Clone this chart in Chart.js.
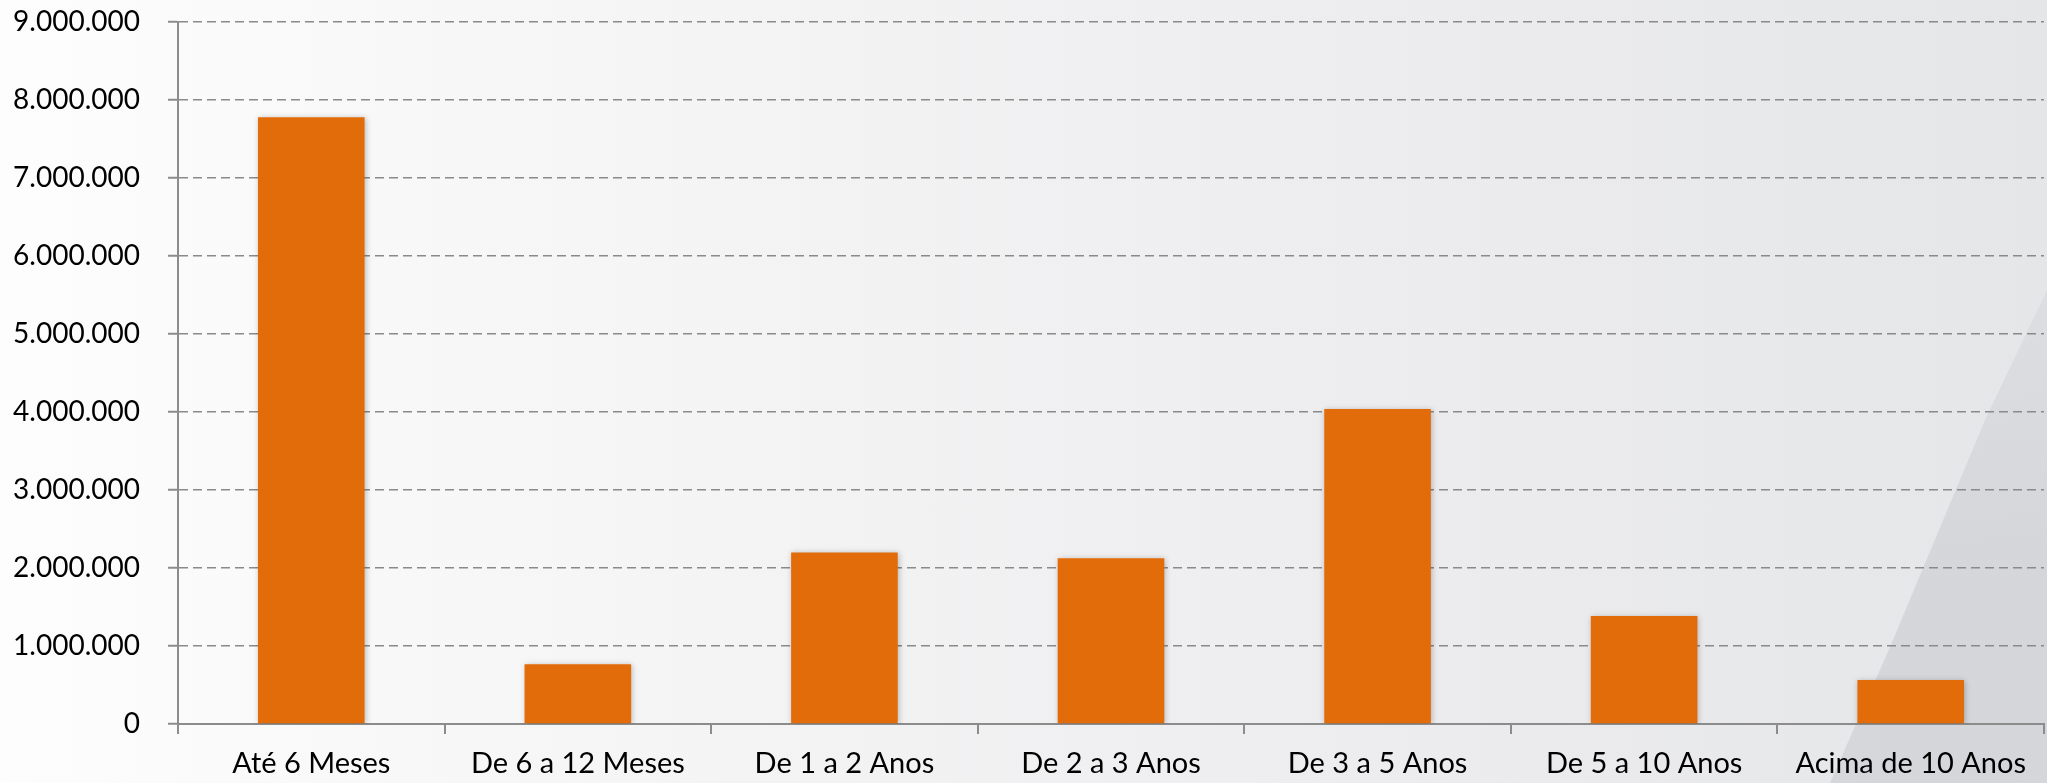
<!DOCTYPE html>
<html>
<head>
<meta charset="utf-8">
<script src="https://cdn.jsdelivr.net/npm/chart.js@4.4.1/dist/chart.umd.min.js"></script>
<style>
  html, body { margin: 0; padding: 0; }
  body {
    width: 2047px; height: 783px; overflow: hidden; position: relative;
    background: linear-gradient(90deg, #fdfdfd 0%, #f4f4f5 35%, #ececee 70%, #e5e6e8 100%);
  }
  #deco {
    position: absolute; left: 0; top: 0; width: 2047px; height: 783px;
    background: linear-gradient(180deg, rgba(200,201,206,0.25) 35%, rgba(200,201,206,0.55) 70%, rgba(200,201,206,0.55) 100%);
    clip-path: polygon(2047px 290px, 2047px 783px, 1830px 783px, 1890px 647px, 1985px 420px);
  }
  #wrap { position: absolute; left: 0; top: 0; width: 2047px; height: 783px; }
</style>
</head>
<body>
<div id="deco"></div>
<div id="wrap"><canvas id="c" width="2047" height="783"></canvas></div>
<script>
const categories = ["Até 6 Meses", "De 6 a 12 Meses", "De 1 a 2 Anos", "De 2 a 3 Anos", "De 3 a 5 Anos", "De 5 a 10 Anos", "Acima de 10 Anos"];
const values = [7780000, 765000, 2200000, 2125000, 4040000, 1385000, 565000];
const yMin = 0;
const yMax = 9000000;
const yStep = 1000000;

const fmt = v => v.toString().replace(/\B(?=(\d{3})+(?!\d))/g, ".");

const shadowPlugin = {
  id: 'barShadow',
  beforeDatasetsDraw(chart) {
    const ctx = chart.ctx;
    ctx.save();
    ctx.shadowColor = 'rgba(0,0,0,0.25)';
    ctx.shadowBlur = 6;
    ctx.shadowOffsetX = 1;
    ctx.shadowOffsetY = 1;
  },
  afterDatasetsDraw(chart) {
    chart.ctx.restore();
  }
};

new Chart(document.getElementById('c'), {
  type: 'bar',
  data: {
    labels: categories,
    datasets: [{
      data: values,
      backgroundColor: '#E36C0A',
      borderWidth: 0,
      categoryPercentage: 1.0,
      barPercentage: 0.4
    }]
  },
  options: {
    responsive: false,
    animation: false,
    devicePixelRatio: 1,
    layout: { padding: { top: 22, right: 3, left: 0, bottom: 0 } },
    plugins: { legend: { display: false }, tooltip: { enabled: false } },
    scales: {
      x: {
        offset: true,
        grid: {
          offset: true,
          drawOnChartArea: false,
          drawTicks: true,
          tickLength: 10,
          color: '#8c8c8c',
          lineWidth: 2,
          tickBorderDash: []
        },
        border: { display: true, color: '#8c8c8c', width: 2 },
        ticks: {
          color: '#000000',
          font: { family: 'Lato', size: 29 },
          padding: 12,
          maxRotation: 0,
          autoSkip: false
        },
        afterFit(scale) { scale.height = 59; scale.paddingLeft = 0; scale.paddingRight = 0; }
      },
      y: {
        min: yMin,
        max: yMax,
        grid: {
          color: '#8a8a8a',
          lineWidth: 1.5,
          drawTicks: true,
          tickLength: 10,
          tickBorderDash: [],
          tickColor: '#8c8c8c',
          tickWidth: 2
        },
        border: { display: true, color: '#8c8c8c', width: 2, dash: [9, 5] },
        ticks: {
          stepSize: yStep,
          color: '#000000',
          font: { family: 'Lato', size: 28 },
          padding: 28,
          callback: v => fmt(v)
        },
        afterFit(scale) { scale.width = 178; scale.paddingTop = 0; scale.paddingBottom = 0; }
      }
    }
  },
  plugins: [shadowPlugin]
});
</script>
</body>
</html>
